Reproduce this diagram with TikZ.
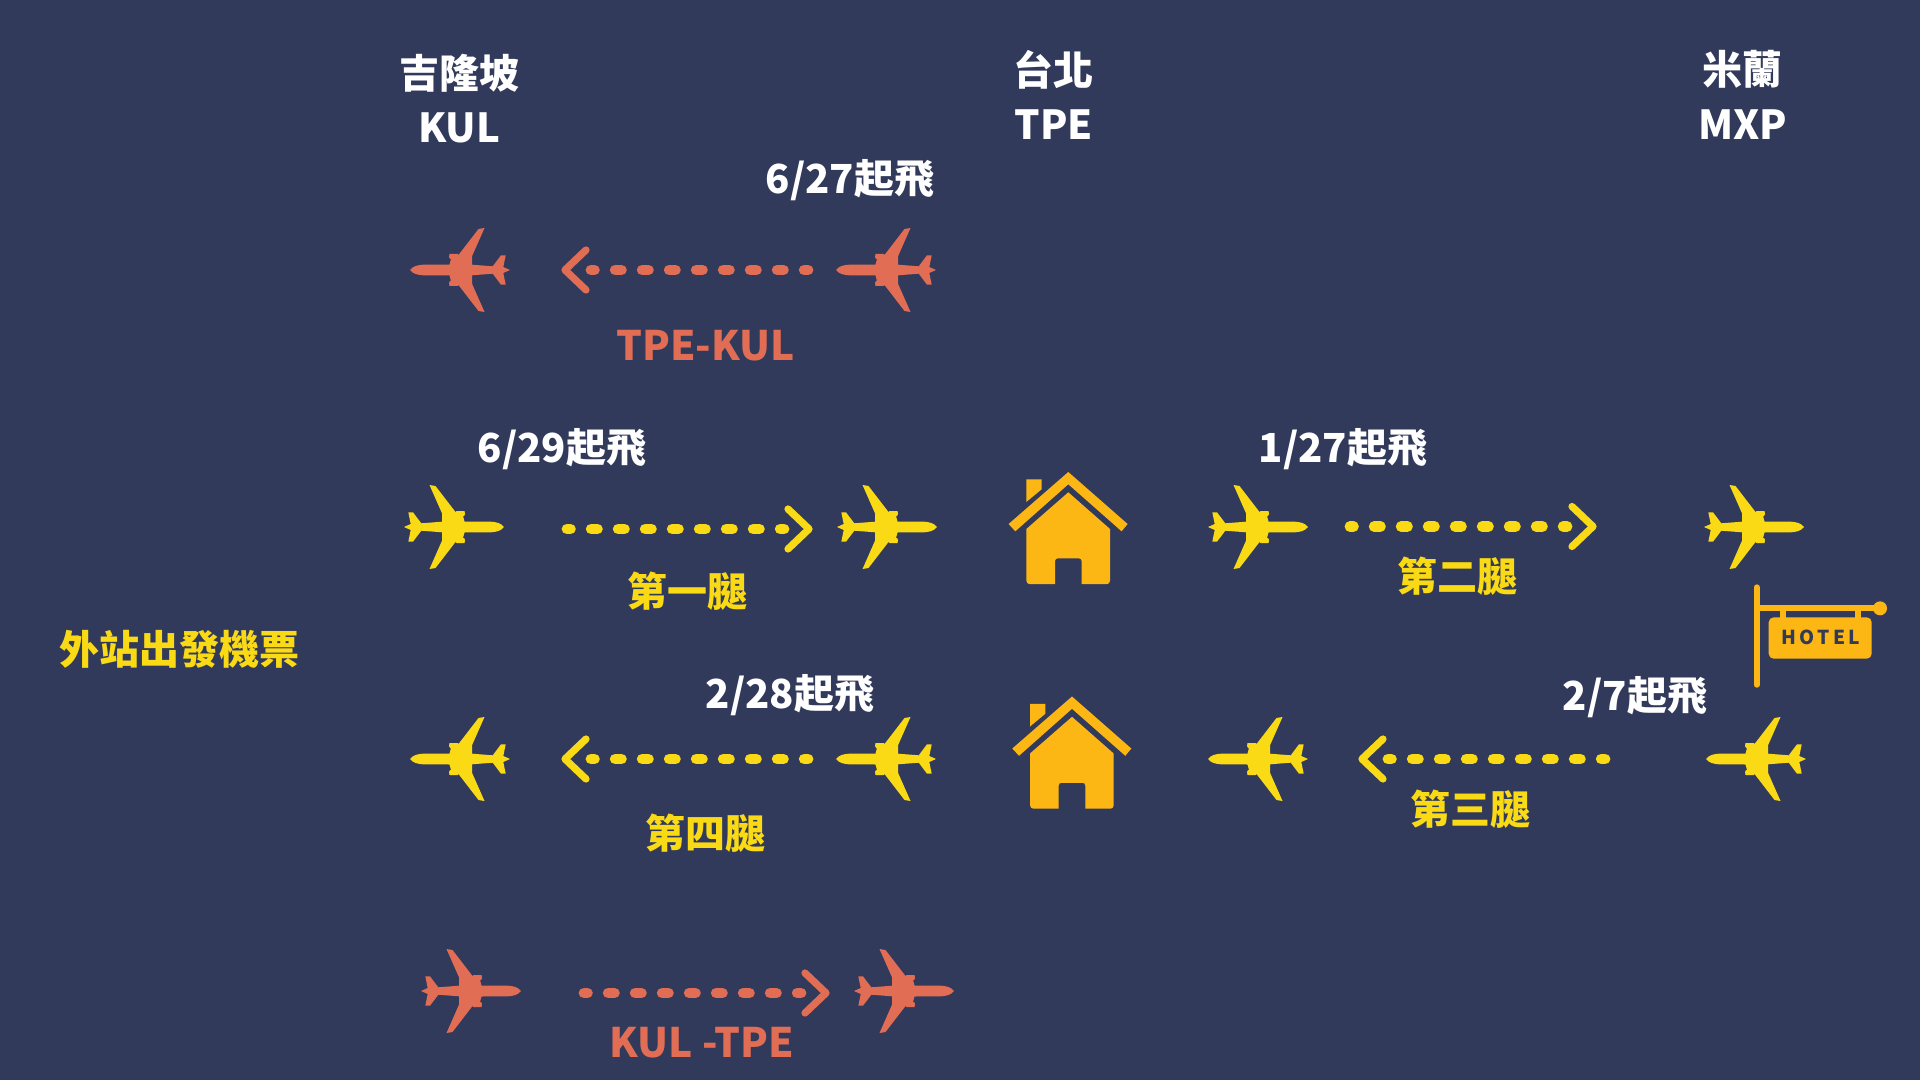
\documentclass[tikz,border=0pt]{standalone}
\usepackage{fontspec}
\setmainfont{Noto Sans CJK TC}
\newfontfamily\hotelfont[LetterSpace=18]{Noto Sans CJK TC}
\definecolor{bgc}{HTML}{323A5B}
\definecolor{coral}{HTML}{E16E54}
\definecolor{yel}{HTML}{FADA14}
\definecolor{org}{HTML}{FDB714}
\tikzset{
  lbl/.style={font=\fontsize{20}{24}\selectfont\bfseries,inner sep=0pt,text=white},
  lblwide/.style={font=\fontsize{20.3}{24}\selectfont\bfseries,inner sep=0pt},
  hotelsign/.style={font=\fontsize{9.6}{12}\selectfont\hotelfont\bfseries,inner sep=0pt,text=bgc},
  dots/.style={line width=5.4pt,line cap=round,dash pattern=on 3.1pt off 10.4pt,dash phase=1.4pt},
  chev/.style={line width=3.6pt,line cap=round,line join=round},
  pics/plane/.style={code={
    \fill (0,0) .. controls (3,-4) and (8,-5) .. (13,-5.3) -- (39.5,-5.5) -- (41,-11) -- (40,-11) -- (39,-13) -- (39.5,-16) -- (47.5,-16) -- (48.5,-15)
      -- (68.5,-41) -- (74.5,-42) -- (62,-13.7) -- (62,-5.3) -- (82.7,-3.7) -- (91,-14.7) -- (95.7,-14.7) -- (93.3,-3) -- (100,0)
      -- (93.3,3) -- (95.7,14.7) -- (91,14.7) -- (82.7,3.7) -- (62,5.3) -- (62,13.7) -- (74.5,42) -- (68.5,41)
      -- (48.5,15) -- (47.5,16) -- (39.5,16) -- (39,13) -- (40,11) -- (41,11) -- (39.5,5.5) -- (13,5.3) .. controls (8,5) and (3,4) .. (0,0) -- cycle;
  }},
  pics/house/.style={code={
    \fill[org] (0,0) -- (59.3,52) -- (53.3,59.3) -- (0,12.3) -- (-53,59.3) -- (-59.7,52) -- cycle;
    \fill[org] (-42,7.3) -- (-26.7,7.3) -- (-26.7,17.3) -- (-42,30) -- cycle;
    \fill[org] (0,20.3) -- (41.7,57) -- (41.7,108.7) .. controls (41.7,111) and (40,112) .. (39,112) -- (13.3,112) -- (13.3,89) .. controls (13.3,87) and (12,86.3) .. (10,86.3) -- (-10,86.3) .. controls (-12,86.3) and (-13.3,87) .. (-13.3,89) -- (-13.3,112) -- (-39,112) .. controls (-40,112) and (-42,111) .. (-42,108.7) -- (-42,57) -- cycle;
  }},
  pics/chevl/.style={code={\draw[chev] (24,-20) -- (3,0) -- (24,20);}},
  pics/chevr/.style={code={\draw[chev] (-24,-20) -- (-3,0) -- (-24,20);}},
}
\begin{document}
\begin{tikzpicture}[x=0.5pt,y=-0.5pt]
\useasboundingbox (0,0) rectangle (1920,1080);
\fill[bgc] (0,0) rectangle (1920,1080);
% city headers
\node[lbl] (kulname) at (459,73) {吉隆坡};
\node[lbl] (kulcode) at (459,128) {KUL};
\node[lbl] (tpename) at (1053,70) {台北};
\node[lbl] (tpecode) at (1054,125) {TPE};
\node[lbl] (mxpname) at (1742,69) {米蘭};
\node[lbl] (mxpcode) at (1743,125) {MXP};
% labels
\node[lbl] (d627) at (850,180) {6/27起飛};
\node[lblwide,text=coral] (tpekul) at (705.5,346) {TPE-KUL};
\node[lbl] (d629) at (562,449) {6/29起飛};
\node[lbl] (d127) at (1343,449) {1/27起飛};
\node[lbl,text=yel] (leg1) at (687,591) {第一腿};
\node[lbl,text=yel] (leg2) at (1457,576) {第二腿};
\node[lbl,text=yel] (outstn) at (179,649) {外站出發機票};
\node[lbl] (d228) at (790,695) {2/28起飛};
\node[lbl] (d27) at (1635,697) {2/7起飛};
\node[lbl,text=yel] (leg4) at (705,833) {第四腿};
\node[lbl,text=yel] (leg3) at (1470,809) {第三腿};
\node[lblwide,text=coral] (kultpe) at (702,1043) {KUL -TPE};
% planes
\begin{scope}[fill=coral]
\pic at (410,270) {plane};
\pic at (836,270) {plane};
\pic[xscale=-1] at (521,991) {plane};
\pic[xscale=-1] at (954,991) {plane};
\end{scope}
\begin{scope}[fill=yel]
\pic[xscale=-1] at (504,527) {plane};
\pic[xscale=-1] at (937,527) {plane};
\pic[xscale=-1] at (1308,527) {plane};
\pic[xscale=-1] at (1804,527) {plane};
\pic at (410,759) {plane};
\pic at (836,759) {plane};
\pic at (1208,759) {plane};
\pic at (1706,759) {plane};
\end{scope}
% arrows
\coordinate (a1s) at (591,270); \coordinate (a1e) at (808,270);
\coordinate (a2s) at (567,529); \coordinate (a2e) at (784,529);
\coordinate (a3s) at (1350,526.5); \coordinate (a3e) at (1567,526.5);
\coordinate (a4s) at (591,759); \coordinate (a4e) at (808,759);
\coordinate (a5s) at (1388,759); \coordinate (a5e) at (1605,759);
\coordinate (a6s) at (584,993); \coordinate (a6e) at (801,993);
\draw[dots,coral] (a1s) -- (a1e);
\draw[dots,yel] (a2s) -- (a2e);
\draw[dots,yel] (a3s) -- (a3e);
\draw[dots,yel] (a4s) -- (a4e);
\draw[dots,yel] (a5s) -- (a5e);
\draw[dots,coral] (a6s) -- (a6e);
\pic[draw=coral] at (562,270) {chevl};
\pic[draw=yel] at (812,529) {chevr};
\pic[draw=yel] at (1596,526.5) {chevr};
\pic[draw=yel] at (562,759) {chevl};
\pic[draw=yel] at (1359,759) {chevl};
\pic[draw=coral] at (829,993) {chevr};
% houses
\pic at (1068.3,472) {house};
\pic at (1072,696.5) {house};
% hotel sign
\begin{scope}[shift={(1730,570)},x=0.1667pt,y=-0.1667pt]
\draw[org,line width=3pt,line cap=round] (80,52) -- (80,344);
\draw[org,line width=3pt] (80,115) -- (450,115) (158,115) -- (158,150) (385,115) -- (385,150);
\fill[org] (450,115) circle[radius=21];
\fill[org,rounded corners=2.5pt] (116,142) rectangle (425,266);
\node[hotelsign] (hotel) at (272,203) {HOTEL};
\end{scope}
\end{tikzpicture}
\end{document}
